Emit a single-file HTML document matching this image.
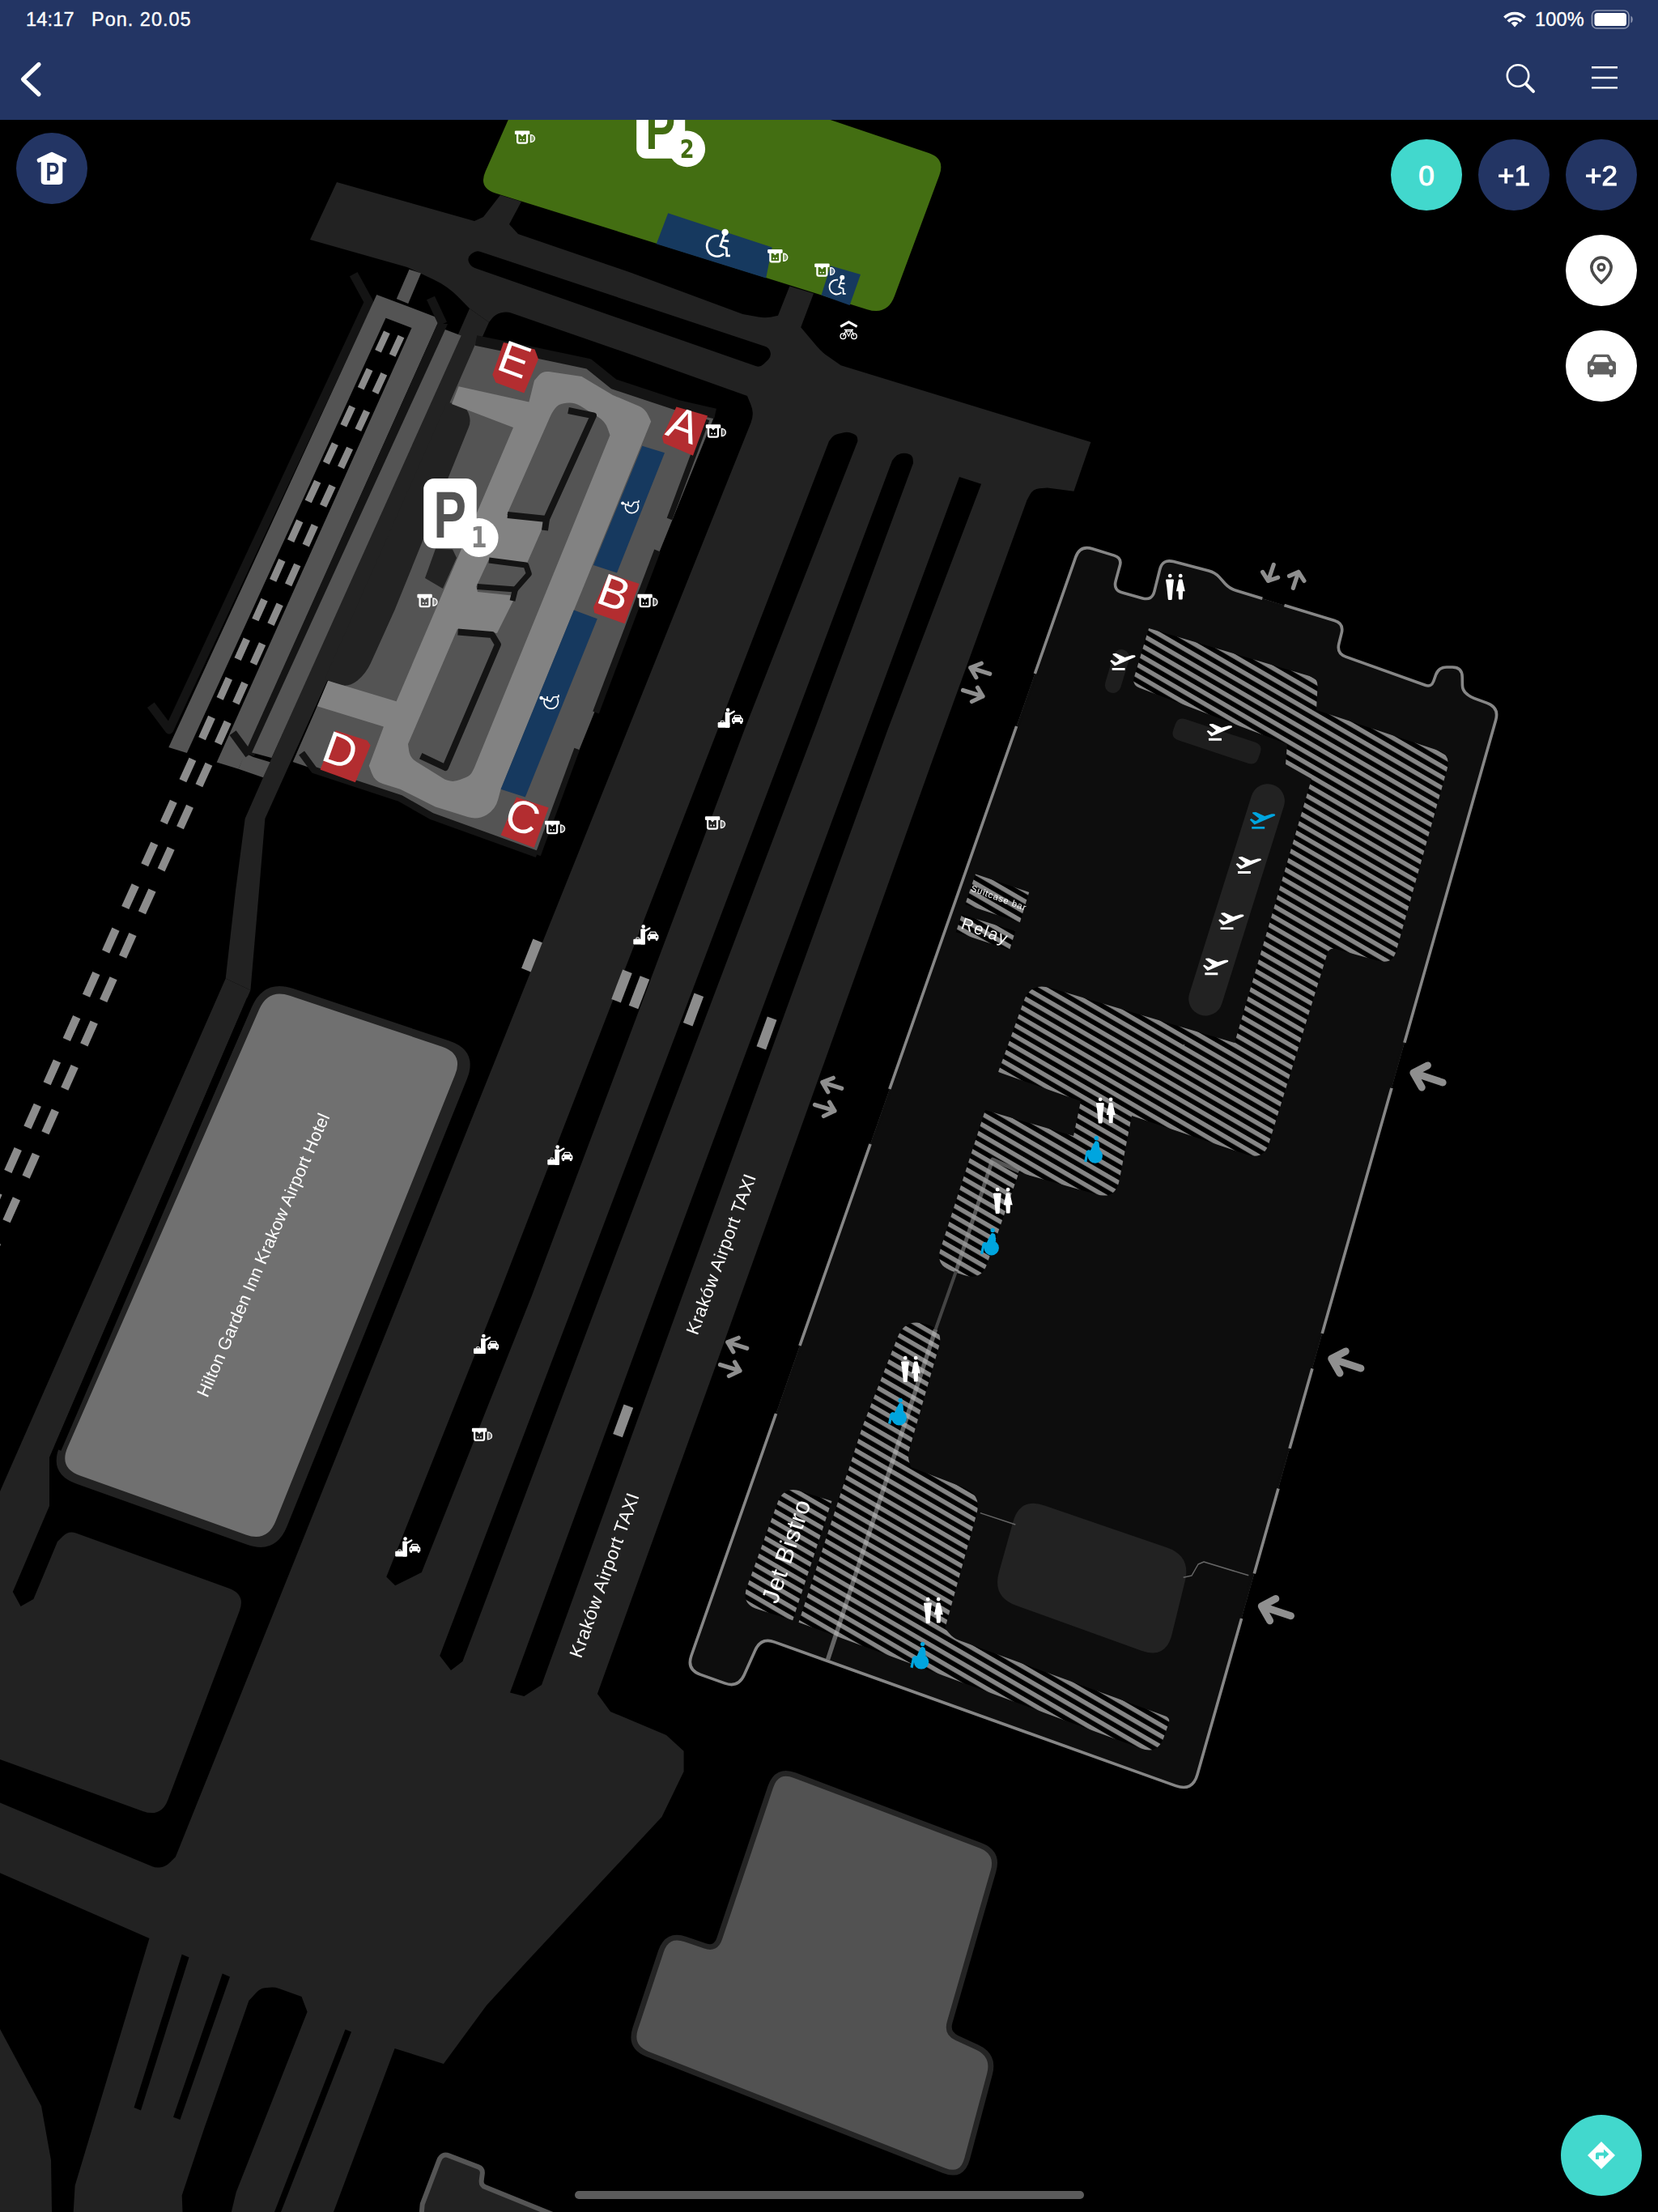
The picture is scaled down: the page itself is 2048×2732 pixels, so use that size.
<!DOCTYPE html>
<html lang="pl"><head><meta charset="utf-8"><title>Kraków Airport – mapa</title>
<style>
html,body{margin:0;padding:0;background:#000;}
body{width:2048px;height:2732px;position:relative;overflow:hidden;font-family:"Liberation Sans",sans-serif;}
#map{position:absolute;left:0;top:0;width:2048px;height:2732px;display:block;}
#map text{font-family:"Liberation Sans",sans-serif;}
#map{will-change:transform;}

#hdr{position:absolute;left:0;top:0;width:2048px;height:148px;background:#233564;}
.st{position:absolute;color:#fff;font-size:23.5px;line-height:24px;top:12px;white-space:nowrap;letter-spacing:.2px;-webkit-text-stroke:.35px #fff;}
.fb{position:absolute;width:88px;height:88px;border-radius:50%;top:172px;color:#fff;font-weight:normal;-webkit-text-stroke:1.1px #fff;font-size:35px;line-height:90px;text-align:center;background:#233564;}
.cb{position:absolute;width:88px;height:88px;border-radius:50%;background:#fff;left:1934px;}
#ov{position:absolute;left:0;top:0;width:2048px;height:2732px;display:block;pointer-events:none;}

</style></head><body>
<svg id="map" xmlns="http://www.w3.org/2000/svg" width="2048" height="2732" viewBox="0 0 2048 2732">
<defs>
<pattern id="hatch" patternUnits="userSpaceOnUse" width="40" height="11.52" patternTransform="rotate(30.2)">
<rect x="0" y="0" width="40" height="11.52" fill="#000"/>
<rect x="0" y="0" width="40" height="5.6" fill="#868686"/>
</pattern>
</defs>
<path d="M580.0 381.0L604.0 398.0L327.4 1011.0L320.0 1100.0L309.4 1223.0L278.7 1208.6L291.0 1100.0L302.7 1011.0Z" fill="#222222" />
<path d="M278.7 1208.6L309.4 1223.0L61.0 1800.0L61.0 1860.0L15.8 1966.0L25.6 1984.0L41.4 1975.0L71.0 1904.0L77.8 1897.2Q84.7 1890.3 93.8 1893.6L282.9 1961.7Q303.6 1969.2 295.8 1989.8L207.5 2222.7Q199.0 2245.1 176.4 2236.9L0.0 2173.0L0.0 1842.0Z" fill="#222222" />
<path d="M927.5 500.0Q932.0 511.0 927.6 522.0L390.8 1860.0L216.8 2293.6L209.4 2300.7Q205.0 2305.0 199.0 2306.2L198.9 2306.2Q193.0 2307.4 187.5 2305.1L0.0 2226.6L0.0 2313.3L184.5 2394.0L92.6 2699.6L90.7 2732.0L412.0 2732.0L487.6 2530.0L547.9 2549.0L601.0 2476.8L650.0 2423.6L817.5 2244.0L844.6 2188.0L844.6 2162.7L823.0 2143.0L754.0 2114.0L737.9 2092.0L879.3 1700.0L1151.4 940.0L1268.5 617.7L1272.2 610.9Q1276.0 604.0 1283.8 603.3L1293.9 602.5L1326.4 606.8L1347.4 546.0L1038.7 451.2L1023.3 440.6Q1015.0 435.0 1008.6 427.3L989.2 404.2L1005.0 362.6L975.4 353.5L961.0 389.7L953.0 391.4Q945.0 393.0 937.0 391.5L917.5 388.0L780.0 337.0L640.0 289.0L629.0 277.0L644.0 249.0L618.0 241.0L597.0 268.0L586.0 273.0L416.0 225.0L383.0 296.0L503.0 330.0L535.6 345.3Q553.0 353.5 566.5 367.2L580.0 381.0L604.0 398.0L608.0 393.0Q612.0 388.0 618.2 386.5L619.0 386.3Q626.0 384.6 632.8 387.0L780.0 438.0L923.0 489.0Z" fill="#222222" />
<path d="M0.0 2506.0L51.0 2601.0L63.0 2668.0L64.0 2732.0L0.0 2732.0Z" fill="#222222" />
<path d="M579.0 323.5Q577.0 318.0 581.5 314.3L583.4 312.8Q588.0 309.0 593.7 310.9L944.8 427.8Q950.0 429.5 951.5 434.8L951.5 434.8Q953.0 440.0 949.1 443.9L943.2 449.8Q939.0 454.0 933.3 452.0L586.5 330.9Q581.0 329.0 579.0 323.5Z" fill="#000000" />
<path d="M1024.0 545.0L1027.0 541.0Q1030.0 537.0 1034.9 535.9L1042.2 534.3Q1048.0 533.0 1053.3 535.5L1055.5 536.5Q1058.7 538.0 1059.1 541.5L1059.4 545.0L920.0 900.0L657.0 1600.0L520.8 1942.0L488.2 1958.3L477.3 1947.4L615.8 1600.0L887.0 900.0Z" fill="#000000" />
<path d="M1102.0 569.0L1104.8 565.3Q1107.5 561.6 1112.0 560.5L1113.7 560.1Q1118.4 559.0 1122.9 560.9L1123.1 560.9Q1127.4 562.7 1127.7 567.4L1128.0 572.0L1006.6 900.0L741.5 1600.0L571.4 2052.0L557.0 2063.0L543.2 2045.0L712.5 1600.0L977.7 900.0Z" fill="#000000" />
<path d="M1185.0 589.0L1212.1 597.8L1097.0 900.0L843.0 1600.0L669.0 2081.0L647.4 2095.0L630.0 2090.4L810.0 1600.0L1070.0 900.0Z" fill="#000000" />
<path d="M224.7 2413.8L233.5 2417.5L174.0 2606.5L165.5 2603.0Z" fill="#000000" />
<path d="M274.7 2437.5L284.0 2441.5L222.5 2618.0L214.0 2614.8Z" fill="#000000" />
<path d="M426.5 2506.4L434.0 2509.5L347.0 2732.0L339.0 2732.0Z" fill="#000000" />
<path d="M307.4 2471.0L317.1 2460.4Q321.2 2456.0 327.2 2455.3L333.0 2454.7Q339.0 2454.0 344.6 2456.0L372.5 2466.0L379.6 2484.7L291.7 2707.4L285.8 2732.0L225.5 2732.0L224.7 2711.4L252.3 2628.6Z" fill="#000000" />
<rect x="650.8" y="1160.5" width="12.4" height="39" fill="#8c8c8c" transform="rotate(21.5 657 1180)"/>
<rect x="761.8" y="1198.5" width="12.4" height="39" fill="#8c8c8c" transform="rotate(21 768 1218)"/>
<rect x="783.3" y="1206.2" width="12.4" height="39" fill="#8c8c8c" transform="rotate(21 789.5 1225.7)"/>
<rect x="850.3" y="1227.5" width="12.4" height="39" fill="#8c8c8c" transform="rotate(20.5 856.5 1247)"/>
<rect x="940.8" y="1256.5" width="12.4" height="39" fill="#8c8c8c" transform="rotate(20 947 1276)"/>
<rect x="763.5" y="1735.4" width="12.4" height="39" fill="#8c8c8c" transform="rotate(20 769.7 1754.9)"/>
<path d="M631.3 140.0L1002.3 140.0L1147.2 189.0Q1168.0 196.0 1160.3 216.6L1105.0 365.6Q1096.0 390.0 1071.2 382.2L611.7 238.4Q590.7 231.8 599.6 211.7Z" fill="#436e12" />
<path d="M825.2 263.2L953.7 305.5L946.2 343.6L810.8 301.2Z" fill="#16395f" />
<path d="M1026.0 328.2L1063.0 339.0L1049.6 377.0L1014.5 364.4Z" fill="#16395f" />
<path d="M436.7 338.7L455.5 373.0L209.0 901.0L186.3 870.8" fill="none" stroke="#141414" stroke-width="11" stroke-linecap="butt" stroke-linejoin="round" />
<path d="M465.3 363.9L543.2 393.4L294.7 949.8L208.3 923.0Z" fill="#545454" />
<path d="M294.7 949.8L302.6 930.0L312.9 935.0L333.7 941.3L325.0 960.3Z" fill="#545454" />
<path d="M476.5 392.8L508.5 404.9L252.6 975.0L210.3 975.0Z" fill="#000000" />
<path d="M532.0 368.0L546.0 398.0L295.3 960.0" fill="none" stroke="#141414" stroke-width="12" stroke-linecap="butt" stroke-linejoin="round" visibility="hidden"/>
<path d="M532.0 368.0L547.0 400.0" fill="none" stroke="#141414" stroke-width="11" stroke-linecap="butt" stroke-linejoin="round" />
<path d="M540.3 400.0L553.1 400.0L313.8 934.0L302.6 930.0Z" fill="#141414" />
<path d="M307.5 932.3L287.6 905.1" fill="none" stroke="#141414" stroke-width="10" stroke-linecap="butt" stroke-linejoin="round" />
<path d="M549.9 407.0L569.7 414.5L335.5 935.9L311.1 929.6Z" fill="#545454" />
<path d="M505.5 332.7L520.0 337.5L504.2 375.0L489.8 368.9Z" fill="#545454" />
<rect x="468.2" y="409.1" width="8.5" height="25.8" fill="#8c8c8c" transform="rotate(24.9 472.5 422.0)"/>
<rect x="485.8" y="414.4" width="8.5" height="25.8" fill="#8c8c8c" transform="rotate(24.9 490.1 427.3)"/>
<rect x="446.9" y="455.1" width="8.5" height="25.8" fill="#8c8c8c" transform="rotate(24.9 451.1 468.0)"/>
<rect x="464.7" y="460.5" width="8.5" height="25.8" fill="#8c8c8c" transform="rotate(24.9 468.9 473.3)"/>
<rect x="425.5" y="501.1" width="8.5" height="25.8" fill="#8c8c8c" transform="rotate(24.9 429.7 514.0)"/>
<rect x="443.5" y="506.5" width="8.5" height="25.8" fill="#8c8c8c" transform="rotate(24.9 447.8 519.4)"/>
<rect x="404.0" y="546.8" width="8.7" height="26.3" fill="#8c8c8c" transform="rotate(24.9 408.3 560.0)"/>
<rect x="422.2" y="552.3" width="8.7" height="26.3" fill="#8c8c8c" transform="rotate(24.9 426.6 565.5)"/>
<rect x="382.0" y="593.4" width="9.0" height="27.3" fill="#8c8c8c" transform="rotate(24.9 386.5 607.0)"/>
<rect x="400.4" y="598.9" width="9.0" height="27.3" fill="#8c8c8c" transform="rotate(24.9 404.9 612.5)"/>
<rect x="360.2" y="642.1" width="9.0" height="27.2" fill="#8c8c8c" transform="rotate(24.2 364.7 655.7)"/>
<rect x="378.8" y="647.7" width="9.0" height="27.2" fill="#8c8c8c" transform="rotate(24.2 383.3 661.3)"/>
<rect x="338.3" y="690.7" width="9.0" height="27.3" fill="#8c8c8c" transform="rotate(24.2 342.8 704.3)"/>
<rect x="357.2" y="696.3" width="9.0" height="27.3" fill="#8c8c8c" transform="rotate(24.2 361.7 710.0)"/>
<rect x="316.5" y="739.4" width="9.0" height="27.3" fill="#8c8c8c" transform="rotate(24.2 321.0 753.0)"/>
<rect x="335.6" y="745.1" width="9.0" height="27.3" fill="#8c8c8c" transform="rotate(24.2 340.1 758.7)"/>
<rect x="294.7" y="788.1" width="9.0" height="27.2" fill="#8c8c8c" transform="rotate(24.2 299.2 801.7)"/>
<rect x="314.0" y="793.9" width="9.0" height="27.2" fill="#8c8c8c" transform="rotate(24.2 318.5 807.5)"/>
<rect x="272.8" y="836.7" width="9.0" height="27.3" fill="#8c8c8c" transform="rotate(24.2 277.3 850.3)"/>
<rect x="292.4" y="842.5" width="9.0" height="27.3" fill="#8c8c8c" transform="rotate(24.2 296.9 856.2)"/>
<rect x="250.7" y="884.4" width="9.6" height="29.1" fill="#8c8c8c" transform="rotate(24.2 255.5 899.0)"/>
<rect x="270.5" y="890.4" width="9.6" height="29.1" fill="#8c8c8c" transform="rotate(24.2 275.3 904.9)"/>
<rect x="227.1" y="936.4" width="9.6" height="29.1" fill="#8c8c8c" transform="rotate(24.4 231.9 951.0)"/>
<rect x="247.1" y="942.4" width="9.6" height="29.1" fill="#8c8c8c" transform="rotate(24.4 251.9 957.0)"/>
<rect x="203.5" y="988.4" width="9.6" height="29.1" fill="#8c8c8c" transform="rotate(24.4 208.3 1003.0)"/>
<rect x="223.7" y="994.5" width="9.6" height="29.1" fill="#8c8c8c" transform="rotate(24.4 228.5 1009.1)"/>
<rect x="179.9" y="1040.4" width="9.7" height="29.2" fill="#8c8c8c" transform="rotate(24.4 184.7 1055.0)"/>
<rect x="200.3" y="1046.5" width="9.7" height="29.2" fill="#8c8c8c" transform="rotate(24.4 205.2 1061.1)"/>
<rect x="156.0" y="1092.0" width="10.0" height="30.4" fill="#8c8c8c" transform="rotate(24.4 161.0 1107.2)"/>
<rect x="176.7" y="1098.2" width="10.0" height="30.4" fill="#8c8c8c" transform="rotate(24.4 181.7 1113.4)"/>
<rect x="131.8" y="1146.3" width="10.0" height="30.4" fill="#8c8c8c" transform="rotate(24.0 136.8 1161.5)"/>
<rect x="152.8" y="1152.6" width="10.0" height="30.4" fill="#8c8c8c" transform="rotate(24.0 157.8 1167.8)"/>
<rect x="107.7" y="1200.6" width="10.0" height="30.4" fill="#8c8c8c" transform="rotate(24.0 112.7 1215.8)"/>
<rect x="128.9" y="1207.0" width="10.0" height="30.4" fill="#8c8c8c" transform="rotate(24.0 133.9 1222.2)"/>
<rect x="83.5" y="1254.8" width="10.1" height="30.5" fill="#8c8c8c" transform="rotate(24.0 88.5 1270.0)"/>
<rect x="105.0" y="1261.2" width="10.1" height="30.5" fill="#8c8c8c" transform="rotate(24.0 110.0 1276.4)"/>
<rect x="59.3" y="1309.2" width="10.0" height="30.4" fill="#8c8c8c" transform="rotate(24.0 64.3 1324.4)"/>
<rect x="81.0" y="1315.7" width="10.0" height="30.4" fill="#8c8c8c" transform="rotate(24.0 86.0 1330.9)"/>
<rect x="35.1" y="1363.5" width="10.0" height="30.4" fill="#8c8c8c" transform="rotate(24.0 40.2 1378.7)"/>
<rect x="57.1" y="1370.1" width="10.0" height="30.4" fill="#8c8c8c" transform="rotate(24.0 62.1 1385.3)"/>
<rect x="11.0" y="1417.7" width="10.1" height="30.5" fill="#8c8c8c" transform="rotate(24.0 16.0 1433.0)"/>
<rect x="33.2" y="1424.4" width="10.1" height="30.5" fill="#8c8c8c" transform="rotate(24.0 38.2 1439.7)"/>
<rect x="-13.3" y="1472.2" width="10.1" height="30.5" fill="#8c8c8c" transform="rotate(24.0 -8.2 1487.5)"/>
<rect x="9.2" y="1479.0" width="10.1" height="30.5" fill="#8c8c8c" transform="rotate(24.0 14.2 1494.2)"/>
<rect x="-37.5" y="1526.7" width="10.1" height="30.5" fill="#8c8c8c" transform="rotate(24.0 -32.4 1542.0)"/>
<rect x="-14.8" y="1533.5" width="10.1" height="30.5" fill="#8c8c8c" transform="rotate(24.0 -9.7 1548.8)"/>
<path d="M588.0 423.0L664.0 438.6L726.0 452.0L757.0 477.0L835.5 502.5L882.6 513.4L663.3 1055.0L533.0 1008.0L494.4 986.0L361.7 941.0Z" fill="#545454" />
<path d="M588.0 420.5L664.0 436.1L727.0 449.3L758.0 474.3L835.5 500.0L883.5 511.0" fill="none" stroke="#141414" stroke-width="13" stroke-linecap="butt" stroke-linejoin="round" />
<path d="M663.3 1055.0L533.0 1008.0L494.4 986.0L388.0 951.0L372.6 930.0" fill="none" stroke="#141414" stroke-width="8.5" stroke-linecap="butt" stroke-linejoin="round" />
<path d="M552.0 497.0L564.5 498.6Q575.0 500.0 578.5 510.0L579.4 512.4Q582.0 520.0 579.0 527.4L487.7 753.0L457.9 819.0Q452.0 832.0 441.0 841.0L440.8 841.1Q430.0 850.0 416.9 845.0L404.7 840.4Q401.0 839.0 402.6 835.3Z" fill="#222222" />
<path d="M538.0 677.7L559.0 678.5L564.0 689.0L547.0 727.0L525.0 714.0Z" fill="#222222" />
<path d="M566.5 477.2L653.4 496.5L660.0 470.0L665.1 463.9Q670.3 457.9 678.2 459.1L718.5 465.0L757.0 488.0L789.1 501.6Q797.0 505.0 800.6 512.8L804.2 520.6L618.6 974.7L615.2 987.6Q612.0 1000.0 601.0 1006.5L601.0 1006.5Q590.0 1013.0 577.8 1009.1L537.8 996.4L494.4 974.7L472.8 968.0Q463.0 965.0 459.4 955.4L455.8 945.8L473.9 897.5L391.9 872.2L405.1 840.8L489.6 866.2L634.0 527.9L558.0 499.0Z" fill="#828282" />
<path d="M679.4 514.9Q682.0 509.0 686.0 504.0L686.0 504.0Q690.0 499.0 696.3 498.2L699.5 497.8Q709.0 496.5 717.1 501.6L739.9 515.8Q747.5 520.6 750.5 529.0L753.5 537.5L586.0 948.0L583.5 953.0Q581.0 958.0 575.8 960.1L568.2 963.1Q557.0 967.5 546.8 961.1L513.8 940.5Q506.5 936.0 505.2 927.5L504.0 919.0L565.0 777.0L614.0 782.0L637.0 736.0L590.0 731.0L588.3 724.5L604.0 690.7L651.0 695.5L675.0 641.0L626.0 636.0Z" fill="#545454" />
<path d="M702.0 507.0L733.0 513.4L675.0 641.0L627.0 636.0" fill="none" stroke="#141414" stroke-width="8" stroke-linecap="butt" stroke-linejoin="round" />
<path d="M675.0 641.0L673.0 655.0" fill="none" stroke="#141414" stroke-width="8" stroke-linecap="butt" stroke-linejoin="round" />
<path d="M604.0 692.0L649.8 698.0L653.4 708.8L636.5 728.0L589.5 724.5" fill="none" stroke="#141414" stroke-width="7" stroke-linecap="butt" stroke-linejoin="round" />
<path d="M636.5 728.0L633.0 742.0" fill="none" stroke="#141414" stroke-width="7" stroke-linecap="butt" stroke-linejoin="round" />
<path d="M565.6 780.5L607.8 784.0L615.0 796.0L550.0 948.0L519.7 933.7" fill="none" stroke="#141414" stroke-width="8" stroke-linecap="butt" stroke-linejoin="round" />
<path d="M793.3 550.8L821.0 559.2L762.0 707.6L733.0 698.0Z" fill="#16395f" />
<path d="M708.9 753.4L737.8 764.3L648.8 984.4L618.6 974.7Z" fill="#16395f" />
<path d="M873.0 518.0L827.0 641.0" fill="none" stroke="#141414" stroke-width="7" stroke-linecap="butt" stroke-linejoin="round" />
<path d="M812.0 680.0L736.0 880.0" fill="none" stroke="#141414" stroke-width="8" stroke-linecap="butt" stroke-linejoin="round" />
<path d="M712.7 925.0L664.5 1056.0" fill="none" stroke="#141414" stroke-width="7" stroke-linecap="butt" stroke-linejoin="round" />
<path d="M622.0 423.0L660.6 431.4L665.0 443.4L647.4 485.6L612.4 472.4L608.3 462.7Z" fill="#b32d30" />
<text x="629" y="462" font-size="56" fill="#fff" text-anchor="middle" transform="rotate(20 629 462)">E</text>
<path d="M835.5 502.5L874.0 513.4L856.0 562.8L819.8 547.2L818.0 540.0Z" fill="#b32d30" />
<text x="838" y="543" font-size="56" fill="#fff" text-anchor="middle" transform="rotate(20 838 543)">A</text>
<path d="M752.3 708.8L789.7 720.9L771.6 770.3L734.2 757.0L733.0 750.0Z" fill="#b32d30" />
<text x="752" y="750" font-size="56" fill="#fff" text-anchor="middle" transform="rotate(20 752 750)">B</text>
<path d="M638.0 984.4L677.7 997.6L659.7 1047.0L618.6 1031.4Z" fill="#b32d30" />
<text x="639" y="1027" font-size="56" fill="#fff" text-anchor="middle" transform="rotate(20 639 1027)">C</text>
<path d="M414.8 902.3L453.4 914.4L457.7 920.4L438.9 966.3L395.5 950.6Z" fill="#b32d30" />
<text x="414" y="945" font-size="56" fill="#fff" text-anchor="middle" transform="rotate(20 414 945)">D</text>
<rect x="523.2" y="591.1" width="65.5" height="86.1" rx="13" fill="#fff"/>
<circle cx="591.6" cy="664.1" r="24" fill="#fff"/>
<text x="0" y="0" font-size="82" font-weight="bold" fill="#545454" transform="translate(535.5,664.1) scale(0.74,1)">P</text>
<text x="591.7" y="676" font-size="35.5" fill="#828282" text-anchor="middle" style="font-family:'DejaVu Sans',sans-serif" font-weight="bold" transform="translate(591.7,0) scale(0.82,1) translate(-591.7,0)">1</text>
<rect x="786.2" y="117" width="60" height="78.8" rx="12" fill="#fff"/>
<circle cx="848.7" cy="183.9" r="22.4" fill="#fff"/>
<text x="0" y="0" font-size="75" font-weight="bold" fill="#436d12" transform="translate(797.2,183.9) scale(0.74,1)">P</text>
<text x="848.7" y="194.9" font-size="32" fill="#436d12" text-anchor="middle" style="font-family:'DejaVu Sans',sans-serif" font-weight="bold" transform="translate(848.7,0) scale(0.8,1) translate(-848.7,0)">2</text>
<path d="M311.0 1243.8Q326.2 1209.0 362.3 1221.1L554.8 1285.6Q590.9 1297.7 576.7 1333.0L354.6 1885.0Q340.4 1920.3 304.6 1907.5L94.8 1832.7Q59.0 1819.9 74.2 1785.1Z" fill="#222222" />
<path d="M320.2 1246.5Q331.4 1220.8 358.0 1229.7L546.1 1292.7Q572.6 1301.6 562.1 1327.6L340.4 1878.9Q329.9 1904.8 303.5 1895.4L98.8 1822.4Q72.4 1813.0 83.6 1787.3Z" fill="#707070" />
<path d="M309.5 1234.0L71.0 1790.0" fill="none" stroke="#000000" stroke-width="9.5" stroke-linecap="butt" stroke-linejoin="round" />
<text x="0" y="0" font-size="21.6" fill="#fff" text-anchor="middle" transform="translate(332,1553) rotate(-66.5)" letter-spacing="0.2">Hilton Garden Inn Krakow Airport Hotel</text>
<path d="M951.8 2206.9Q959.5 2184.2 981.9 2192.7L1211.3 2279.4Q1233.7 2287.9 1227.0 2311.0L1173.1 2497.7Q1169.2 2511.2 1181.9 2517.0L1206.9 2528.5Q1228.7 2538.5 1222.5 2561.7L1194.6 2666.4Q1188.4 2689.6 1166.1 2680.8L799.5 2536.8Q777.2 2528.0 784.8 2505.2L816.4 2410.1Q824.0 2387.3 846.7 2395.1L870.9 2403.4Q884.1 2408.0 888.6 2394.7Z" fill="#525252" stroke="#242424" stroke-width="6.8" stroke-linejoin="round"/>
<path d="M542.2 2668.3Q545.8 2659.0 555.1 2662.6L590.9 2676.4Q596.5 2678.6 595.8 2684.6L594.7 2693.0Q594.0 2699.0 599.6 2701.3L700.0 2742.0L520.0 2742.0L521.7 2722.4Z" fill="#222" stroke="#555" stroke-width="6" stroke-linejoin="round"/>
<path d="M1328.7 688.1Q1334.0 673.0 1349.3 677.7L1376.4 686.1Q1386.0 689.0 1383.3 698.6L1378.2 717.4Q1375.0 729.0 1386.6 732.1L1411.4 738.9Q1423.0 742.0 1425.9 730.4L1432.6 703.6Q1436.0 690.0 1449.5 693.6L1493.1 705.0Q1500.8 707.0 1506.2 712.9L1513.4 721.0Q1518.8 726.9 1526.5 729.2L1648.5 766.5Q1660.0 770.0 1657.2 781.7L1653.8 795.3Q1651.0 807.0 1662.3 811.1L1760.5 846.3Q1768.0 849.0 1770.7 841.5L1773.6 833.4Q1777.0 824.0 1787.0 824.0L1794.0 824.0Q1806.0 824.0 1806.2 836.0L1806.4 846.4Q1806.5 853.0 1811.8 857.0L1813.8 858.6Q1817.0 861.0 1820.7 862.4L1837.0 868.4Q1852.0 874.0 1847.6 889.4L1479.0 2191.8Q1473.0 2213.0 1452.3 2205.6L956.9 2028.1Q940.0 2022.0 932.7 2038.4L919.3 2068.6Q912.0 2085.0 895.1 2078.9L864.9 2068.1Q848.0 2062.0 853.9 2045.0Z" fill="#0d0d0d" stroke="#868686" stroke-width="3.6" stroke-linejoin="round"/>
<path d="M1736.37 1288.22 L1720.49 1344.32" stroke="#000000" stroke-width="3.3"/>
<path d="M1733.38 1287.38 L1717.50 1343.48" stroke="#0d0d0d" stroke-width="3.3"/>
<path d="M1634.70 1647.42 L1622.44 1690.72" stroke="#000000" stroke-width="3.3"/>
<path d="M1631.71 1646.58 L1619.46 1689.88" stroke="#0d0d0d" stroke-width="3.3"/>
<path d="M1594.50 1789.42 L1580.49 1838.92" stroke="#000000" stroke-width="3.3"/>
<path d="M1591.52 1788.58 L1577.51 1838.08" stroke="#0d0d0d" stroke-width="3.3"/>
<path d="M1550.77 1943.92 L1535.06 1999.42" stroke="#000000" stroke-width="3.3"/>
<path d="M1547.79 1943.08 L1532.08 1998.58" stroke="#0d0d0d" stroke-width="3.3"/>
<path d="M1276.90 831.49 L1254.16 896.49" stroke="#000000" stroke-width="3.3"/>
<path d="M1279.83 832.51 L1257.09 897.51" stroke="#0d0d0d" stroke-width="3.3"/>
<path d="M1097.41 1344.49 L1073.62 1412.49" stroke="#000000" stroke-width="3.3"/>
<path d="M1100.34 1345.51 L1076.54 1413.51" stroke="#0d0d0d" stroke-width="3.3"/>
<path d="M986.49 1661.49 L957.10 1745.49" stroke="#000000" stroke-width="3.3"/>
<path d="M989.42 1662.51 L960.03 1746.51" stroke="#0d0d0d" stroke-width="3.3"/>
<path d="M1559.75 737.78 L1586.85 746.05" stroke="#000000" stroke-width="3.3"/>
<path d="M1558.85 740.74 L1585.95 749.02" stroke="#0d0d0d" stroke-width="3.3"/>
<path d="M1565.9 989.2 L1489.2 1233.5" stroke="#222" stroke-width="42" stroke-linecap="round"/>
<path d="M1451.7 894.4Q1455.0 885.0 1464.5 888.2L1550.5 916.8Q1560.0 920.0 1556.7 929.4L1554.3 936.6Q1551.0 946.0 1541.5 942.8L1455.5 914.2Q1446.0 911.0 1449.3 901.6Z" fill="#1e1e1e" />
<path d="M1385 812 L1374.8 846" stroke="#1e1e1e" stroke-width="20" stroke-linecap="round"/>
<path d="M1251.3 1879.8Q1260.0 1849.0 1290.3 1859.4L1441.1 1911.2Q1471.4 1921.6 1463.8 1952.7L1447.6 2018.4Q1440.0 2049.5 1409.9 2038.7L1255.4 1983.1Q1225.3 1972.3 1234.0 1941.5Z" fill="#222" />
<path d="M1419.0 776.0L1618.4 835.2Q1628.0 838.0 1627.5 848.0L1626.0 877.0L1775.4 926.4Q1792.5 932.0 1787.7 949.3L1724.8 1174.2Q1720.0 1191.5 1702.6 1186.7L1649.7 1172.1Q1642.0 1170.0 1639.6 1177.6L1567.5 1412.0Q1561.0 1433.0 1540.2 1426.0L1398.0 1378.0L1382.7 1457.4Q1378.0 1482.0 1354.0 1475.1L1258.7 1448.0L1219.2 1561.2Q1212.0 1582.0 1191.1 1575.0L1175.9 1570.0Q1155.0 1563.0 1161.8 1542.1L1217.0 1371.0L1326.0 1403.0L1335.0 1360.0L1233.0 1324.0L1264.5 1236.5Q1273.0 1213.0 1297.0 1220.1L1525.0 1288.0L1620.0 962.0L1588.0 944.0L1590.0 919.0L1407.3 849.6Q1398.0 846.0 1400.9 836.4Z" fill="url(#hatch)" />
<path d="M1108.8 1651.3Q1118.0 1628.0 1142.0 1635.0L1144.9 1635.8Q1166.0 1642.0 1159.9 1663.1L1123.0 1791.0Q1121.0 1798.0 1123.0 1805.0L1125.0 1812.0L1189.7 1837.0Q1213.0 1846.0 1206.3 1870.1L1167.4 2011.0L1172.2 2017.0Q1177.0 2023.0 1184.2 2025.7L1432.8 2117.0L1439.4 2119.5Q1446.0 2122.0 1443.6 2128.6L1437.4 2146.3Q1430.0 2167.0 1409.4 2159.4L986.5 2003.7L1066.0 1760.0Z" fill="url(#hatch)" />
<path d="M960.5 1855.7Q968.0 1835.0 989.0 1841.7L1027.5 1854.0L979.2 2001.3L936.0 1987.6Q915.0 1981.0 922.5 1960.3Z" fill="url(#hatch)" />
<path d="M1204.9 1079.6L1271.2 1101.9L1259.8 1139.3L1192.2 1117.0Z" fill="url(#hatch)" />
<path d="M1188.0 1129.6L1254.3 1150.1L1247.1 1173.0L1180.8 1151.3Z" fill="url(#hatch)" />
<path d="M1258.7 1446.7L1226.0 1432.0L1181.0 1570.0" fill="none" stroke="#9a9a9a" stroke-width="5" stroke-linecap="butt" stroke-linejoin="round" opacity="0.55"/>
<path d="M1181.0 1570.0L1155.6 1642.0" fill="none" stroke="#444" stroke-width="4" stroke-linecap="butt" stroke-linejoin="round" />
<path d="M1155.6 1642.0L1022.6 2049.5" fill="none" stroke="#bbbbbb" stroke-width="5.5" stroke-linecap="butt" stroke-linejoin="round" opacity="0.5"/>
<path d="M1210.8 1868.6L1254.3 1883.0" fill="none" stroke="#666" stroke-width="1.5" stroke-linecap="butt" stroke-linejoin="round" />
<path d="M1461.7 1948.2L1472.0 1946.0L1480.0 1932.0L1487.0 1929.0L1542.3 1945.8" fill="none" stroke="#666" stroke-width="1.5" stroke-linecap="butt" stroke-linejoin="round" />
<text font-size="22.4" fill="#fff" text-anchor="middle" transform="translate(898,1551.5) rotate(-69.7)" letter-spacing="0.55">Kraków Airport TAXI</text>
<text font-size="22.9" fill="#fff" text-anchor="middle" transform="translate(754,1948) rotate(-70.3)" letter-spacing="0.55">Kraków Airport TAXI</text>
<text font-size="30" fill="#fff" text-anchor="middle" transform="translate(981,1919) rotate(-71.5)" letter-spacing="0.8">Jet Bistro</text>
<text font-size="20.5" fill="#fff" text-anchor="middle" transform="translate(1214.5,1156.5) rotate(19.6)" letter-spacing="1.6">Relay</text>
<text font-size="11" fill="#fff" text-anchor="middle" transform="translate(1232.5,1112.5) rotate(20.3)" letter-spacing="0.95">Suitcase bar</text>
<defs>
<g id="tk">
 <rect x="-12.6" y="-8.2" width="18.4" height="4.7" rx="1.2" fill="#fff"/>
 <path d="M-9.35 -5 V5.2 Q-9.35 7.05 -7.5 7.05 H0.7 Q2.55 7.05 2.55 5.2 V-5" fill="none" stroke="#fff" stroke-width="2.3"/>
 <path d="M-6 -3.8 L-3.4 -0.9 L-0.8 -3.8 Z" fill="#fff"/>
 <circle cx="-5.2" cy="3" r="0.95" fill="#fff"/><circle cx="-1.6" cy="3" r="0.95" fill="#fff"/>
 <path d="M7 -3 V6 A5 4.5 0 0 0 7 -3 Z" fill="#fff" fill-opacity="0.35" stroke="#fff" stroke-width="1.4"/>
</g>
<g id="wc" fill="none" stroke="#fff" stroke-width="2.7" stroke-linecap="butt" stroke-linejoin="miter">
 <path d="M2.2 -12.5 A12.7 12.7 0 1 0 8.2 9.7"/>
 <path d="M8.8 -13.8 L4 0 L11.5 3 L11.8 12 L16 12"/>
 <path d="M6.6 -6.6 L14.3 -6"/>
 <circle cx="9.7" cy="-16.9" r="4.2" fill="#fff" stroke="none"/>
</g>
<g id="wcs" fill="none" stroke="#fff" stroke-width="1.7" stroke-linejoin="miter">
 <path d="M7.4 -4.4 A8.6 8.6 0 1 1 -8.3 -2.4"/>
 <path d="M-11.5 -4.3 L-0.7 -0.2 L2.7 -5.6 L9 -6 L9.3 -8.4"/>
 <path d="M-4.9 -2.4 L-4.7 -6.6"/>
 <circle cx="-12.2" cy="-4.6" r="2.2" fill="#fff" stroke="none"/>
</g>
<g id="tx" fill="#fff">
 <circle cx="-3.1" cy="-10" r="2.3"/>
 <rect x="-6.5" y="-7.1" width="5.7" height="19.2" rx="1"/>
 <path d="M-1.4 -4.4 L4.6 -8" stroke="#fff" stroke-width="2.3" stroke-linecap="round"/>
 <rect x="-15.5" y="5.3" width="14.7" height="6.8" rx="1.3"/>
 <rect x="-11.9" y="3.6" width="3.8" height="2.4" rx="0.6" fill="none" stroke="#fff" stroke-width="1"/>
 <path d="M3.4 -0.3 L5 -3.4 Q5.2 -3.8 5.8 -3.8 H11.6 Q12.2 -3.8 12.4 -3.4 L14 -0.3 Q15.6 0 15.6 1.6 V5.4 H14.6 V6.6 Q14.6 7.3 13.9 7.3 H12.6 Q11.9 7.3 11.9 6.6 V5.4 H5.4 V6.6 Q5.4 7.3 4.7 7.3 H3.4 Q2.7 7.3 2.7 6.6 V5.4 H1.8 V1.6 Q1.8 0 3.4 -0.3 Z"/>
 <path d="M5.2 -0.9 L6 -2.6 H11.4 L12.2 -0.9 Z" fill="#000"/>
 <circle cx="4.2" cy="2.6" r="0.95" fill="#000"/><circle cx="13.2" cy="2.6" r="0.95" fill="#000"/>
</g>
<g id="bk" fill="none" stroke="#fff">
 <path d="M-10.2 -3.6 L0 -9.2 L10.2 -3.6" stroke-width="3"/>
 <circle cx="-7" cy="8.2" r="3.3" stroke-width="1.4"/><circle cx="6.5" cy="8.2" r="3.3" stroke-width="1.4"/>
 <path d="M-7 8.2 L-3 0.6 M-5.6 0.4 H5.6 M-3.4 2 L0 8.2 L3.6 0.6 L6.5 8.2 M-3.4 2.2 H3" stroke-width="1.2"/>
</g>
<g id="plw">
 <path d="M15.8 -7.1 L14.7 -8 L11.4 -8 L2.75 -5.4 L-8.1 -10.3 L-12.1 -10 L-12.4 -8.8 L-4.1 -2.3 L-7 0.15 L-8.8 0.7 L-13.9 -2.3 L-15.6 -0.9 L-9.9 5.2 L15.4 -5.8 Z"/>
 <rect x="-13.2" y="7.6" width="16" height="2.9" rx="0.5"/>
</g>
<g id="wm" fill="#fff">
 <circle cx="-6.65" cy="-13.8" r="2.35"/><circle cx="6.3" cy="-13.8" r="2.35"/>
 <path d="M-10.6 -9.6 H-3.2 Q-2 -9.6 -2 -8.4 L-3 0 L-4.2 15 Q-4.3 16 -5.2 16 H-8.1 Q-9 16 -9.1 15 L-10.6 0 L-11.9 -8.4 Q-11.9 -9.6 -10.6 -9.6 Z"/>
 <path d="M5 -9.6 H7.6 Q8.4 -9.6 8.7 -8.8 L11.9 5.3 H9.2 L8.8 14.6 Q8.7 15.5 7.9 15.5 H4.9 Q4.1 15.5 4 14.6 L3.6 5.3 H1 L3.9 -8.8 Q4.2 -9.6 5 -9.6 Z"/>
</g>
<g id="wb" fill="#00a5df">
 <circle cx="3.6" cy="-14.1" r="2.7"/>
 <circle cx="2.1" cy="7.7" r="9.2"/>
 <path d="M2.2 -10.6 Q6.8 -11 7 -7 L7.6 0 L-4 2 Q-1 -6 2.2 -10.6 Z"/>
 <path d="M-9 2.5 Q-8 0.5 -5 0.2 L-3.5 6 L-7 8.2 L-8.4 15.6 L-11.6 14.6 Z"/>
</g>
</defs>
<use href="#tk" x="884.4" y="532.5" />
<use href="#tk" x="800" y="742" />
<use href="#tk" x="685.6" y="1022" />
<use href="#tk" x="528" y="742" />
<use href="#tk" x="648.5" y="169.6" />
<use href="#tk" x="960.8" y="316.2" />
<use href="#tk" x="1018.8" y="333.6" />
<use href="#tk" x="883.5" y="1016.5" />
<use href="#tk" x="595.5" y="1771.9" />
<use href="#wc" x="885.9" y="303.8" />
<g transform="translate(1033.5 354.5) scale(0.7)" ><use href="#wc"/></g>
<g transform="translate(780.5 625.7) scale(0.93)" ><use href="#wcs"/></g>
<use href="#wcs" x="680.8" y="866.6" />
<use href="#tx" x="902.2" y="886.7" />
<use href="#tx" x="797.8" y="1154.4" />
<use href="#tx" x="691.8" y="1426.6" />
<use href="#tx" x="600.5" y="1660" />
<use href="#tx" x="503.7" y="1910.5" />
<use href="#bk" x="1048.4" y="407" />
<use href="#plw" x="1386.8" y="817.3" fill="#fff"/>
<use href="#plw" x="1506.2" y="904.2" fill="#fff"/>
<use href="#plw" x="1559.4" y="1013.3" fill="#00a5df"/>
<use href="#plw" x="1542.2" y="1068.4" fill="#fff"/>
<use href="#plw" x="1520.7" y="1137.6" fill="#fff"/>
<use href="#plw" x="1501.5" y="1193.7" fill="#fff"/>
<use href="#wm" x="1451.9" y="725" />
<use href="#wm" x="1365.8" y="1371.6" />
<use href="#wm" x="1238.8" y="1483" />
<use href="#wm" x="1124.9" y="1691" />
<use href="#wm" x="1152.9" y="1989" />
<use href="#wb" x="1350.7" y="1419.8" />
<use href="#wb" x="1222.6" y="1533.6" />
<use href="#wb" x="1108.6" y="1743.5" />
<use href="#wb" x="1136" y="2044.7" />
<path d="M1222.7 832.3 L1198.8 824.7 M1212.3 819.3 L1198.8 824.7 L1205.8 836.7" stroke="#8f8f8f" stroke-width="5.2" stroke-linecap="round" stroke-linejoin="round" fill="none"/>
<path d="M1189.5 852.4 L1214.0 860.0 M1207.5 849.2 L1214.0 860.0 L1200.4 866.5" stroke="#8f8f8f" stroke-width="5.2" stroke-linecap="round" stroke-linejoin="round" fill="none"/>
<path d="M1039.7 1344.3 L1015.8 1336.7 M1029.3 1331.3 L1015.8 1336.7 L1022.8 1348.7" stroke="#8f8f8f" stroke-width="5.2" stroke-linecap="round" stroke-linejoin="round" fill="none"/>
<path d="M1006.5 1364.4 L1031.0 1372.0 M1024.5 1361.2 L1031.0 1372.0 L1017.4 1378.5" stroke="#8f8f8f" stroke-width="5.2" stroke-linecap="round" stroke-linejoin="round" fill="none"/>
<path d="M922.7 1665.3 L898.8 1657.7 M912.3 1652.3 L898.8 1657.7 L905.8 1669.7" stroke="#8f8f8f" stroke-width="5.2" stroke-linecap="round" stroke-linejoin="round" fill="none"/>
<path d="M889.5 1685.4 L914.0 1693.0 M907.5 1682.2 L914.0 1693.0 L900.4 1699.5" stroke="#8f8f8f" stroke-width="5.2" stroke-linecap="round" stroke-linejoin="round" fill="none"/>
<path d="M1573.2 697.5 L1566.5 717.4 M1559.6 706.5 L1566.5 717.4 L1578.6 713.2" stroke="#8f8f8f" stroke-width="5.2" stroke-linecap="round" stroke-linejoin="round" fill="none"/>
<path d="M1597.3 726.4 L1603.9 706.5 M1592.5 711.4 L1603.9 706.5 L1610.9 717.4" stroke="#8f8f8f" stroke-width="5.2" stroke-linecap="round" stroke-linejoin="round" fill="none"/>
<path d="M1782.1 1337.0 L1745.9 1325.0 M1763.4 1315.9 L1745.9 1325.0 L1756.2 1343.1" stroke="#8f8f8f" stroke-width="9" stroke-linecap="round" stroke-linejoin="round" fill="none"/>
<path d="M1680.9 1690.0 L1644.7 1678.0 M1662.2 1668.9 L1644.7 1678.0 L1655.0 1696.1" stroke="#8f8f8f" stroke-width="9" stroke-linecap="round" stroke-linejoin="round" fill="none"/>
<path d="M1594.5 1995.7 L1558.3 1983.7 M1575.8 1974.6 L1558.3 1983.7 L1568.6 2001.8" stroke="#8f8f8f" stroke-width="9" stroke-linecap="round" stroke-linejoin="round" fill="none"/>
</svg>

<div id="hdr"></div>
<div class="st" style="left:32px">14:17</div>
<div class="st" style="left:113px;letter-spacing:1px">Pon. 20.05</div>
<div class="st" style="left:1896px">100%</div>
<div class="fb" style="left:1718px;background:#42d8cd">0</div>
<div class="fb" style="left:1826px">+1</div>
<div class="fb" style="left:1934px">+2</div>
<div class="fb" style="left:20px;top:164px"></div>
<div class="cb" style="top:290px"></div>
<div class="cb" style="top:408px"></div>
<div class="fb" style="left:1928px;top:2612px;width:100px;height:100px;background:#42d8cd"></div>
<svg id="ov" xmlns="http://www.w3.org/2000/svg" width="2048" height="2732" viewBox="0 0 2048 2732">
<!-- back chevron -->
<path d="M48 79.5 L28.5 98 L48 116.5" fill="none" stroke="#fff" stroke-width="5.2" stroke-linecap="round" stroke-linejoin="round"/>
<!-- wifi -->
<g transform="translate(1871,33)" fill="none" stroke="#fff" stroke-width="3.6" stroke-linecap="butt">
<path d="M-12.6 -11.2 A17.5 17.5 0 0 1 12.6 -11.2"/>
<path d="M-8.2 -6.4 A11.2 11.2 0 0 1 8.2 -6.4"/>
</g>
<path d="M1871 33.5 L1866.6 28.6 A6.2 6.2 0 0 1 1875.4 28.6 Z" fill="#fff"/>
<!-- battery -->
<rect x="1966.5" y="13" width="45.5" height="22" rx="6" fill="none" stroke="#8d96b0" stroke-width="1.6"/>
<rect x="1969.5" y="16" width="39.5" height="16" rx="3.6" fill="#fff"/>
<path d="M2014.5 19.5 a4 5 0 0 1 0 9 Z" fill="#8d96b0"/>
<!-- search -->
<circle cx="1875" cy="93.5" r="13.2" fill="none" stroke="#fff" stroke-width="2.6"/>
<path d="M1884.8 103.6 L1894 112.8" stroke="#fff" stroke-width="4" stroke-linecap="round"/>
<!-- hamburger -->
<path d="M1966 83.2 H1998 M1966 96 H1998 M1966 108.4 H1998" stroke="#fff" stroke-width="2.4"/>
<!-- parking button icon -->
<g transform="translate(64,208)" fill="#fff">
<path d="M-17.2 -12.2 L-0.9 -20 Q0 -20.4 0.9 -20 L17.2 -12.2 Q18.9 -11.3 18.3 -9.6 L17.7 -8.2 Q17 -6.8 15.4 -7.4 L13.3 -8.2 L13.3 15.5 Q13.3 19.9 8.9 19.9 L-8.9 19.9 Q-13.3 19.9 -13.3 15.5 L-13.3 -8.2 L-15.4 -7.4 Q-17 -6.8 -17.7 -8.2 L-18.3 -9.6 Q-18.9 -11.3 -17.2 -12.2 Z"/>
</g>
<text x="0" y="0" font-size="31.5" font-weight="bold" fill="#233564" text-anchor="middle" font-family="Liberation Sans, sans-serif" transform="translate(65,222.6) scale(0.8,1)">P</text>
<!-- location pin -->
<path d="M1978 349.2 C1969 341.5 1965.8 335.5 1965.8 330.3 A12.2 12.2 0 0 1 1990.2 330.3 C1990.2 335.5 1987 341.5 1978 349.2 Z" fill="none" stroke="#4a4a4a" stroke-width="3.6" stroke-linejoin="round"/>
<circle cx="1978" cy="330" r="3.9" fill="none" stroke="#4a4a4a" stroke-width="3.2"/>
<!-- car -->
<g fill="#606060">
<path d="M1961 461 V449 Q1961 446 1964.5 445.5 L1968 438.8 Q1968.8 437.8 1970.5 437.8 H1985.5 Q1987.2 437.8 1988 438.8 L1991.5 445.5 Q1996 446 1996 449 V461 Q1996 462.5 1994.5 462.5 H1993.2 V463.5 A2.6 2.6 0 0 1 1988 463.5 V462.5 H1968 V463.5 A2.6 2.6 0 0 1 1962.8 463.5 V462.5 H1962.5 Q1961 462.5 1961 461 Z"/>
</g>
<path d="M1968.2 447.3 L1971.2 441 H1984.8 L1987.8 447.3 Z" fill="#fff"/>
<circle cx="1966.8" cy="454" r="2.5" fill="#fff"/><circle cx="1989.6" cy="454" r="2.5" fill="#fff"/>
<!-- directions -->
<path d="M1978 2645 L1995 2662 L1978 2679 L1961 2662 Z" fill="#fff"/>
<path d="M1971 2667 V2660.5 Q1971 2658.5 1973 2658.5 H1981 V2654.5 L1987.5 2660.5 L1981 2666.5 V2662.5 H1975 V2667 Z" fill="#42d8cd"/>
<!-- home indicator -->
<rect x="710" y="2706" width="629" height="10" rx="5" fill="#5c5c5c"/>
</svg>

</body></html>
